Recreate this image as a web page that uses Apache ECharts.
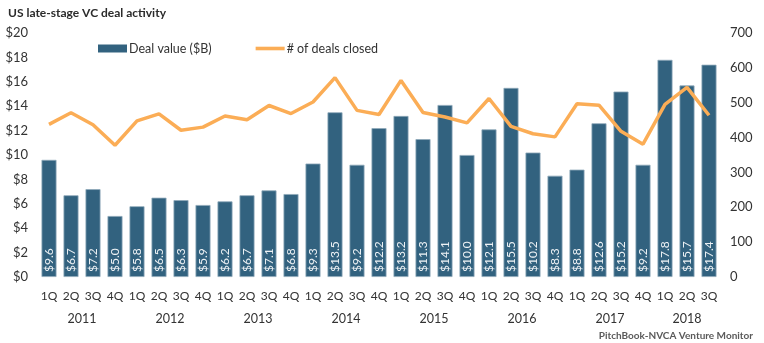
<!DOCTYPE html>
<html>
<head>
<meta charset="utf-8">
<script src="https://cdn.jsdelivr.net/npm/echarts@6/dist/echarts.min.js"></script>
<style>
  html, body { margin: 0; padding: 0; background: #fff; }
  #chart { width: 764px; height: 343px; }
</style>
</head>
<body>
<div id="chart"></div>
<script>
// Quarterly late-stage deal activity, 1Q 2011 through 3Q 2018
const quarters = [
  '1Q','2Q','3Q','4Q', '1Q','2Q','3Q','4Q', '1Q','2Q','3Q','4Q',
  '1Q','2Q','3Q','4Q', '1Q','2Q','3Q','4Q', '1Q','2Q','3Q','4Q',
  '1Q','2Q','3Q','4Q', '1Q','2Q','3Q'
];
const years = ['2011','2012','2013','2014','2015','2016','2017','2018'];
// Quarter count per year (2018 is a partial year)
const quartersPerYear = [4, 4, 4, 4, 4, 4, 4, 3];

const dealValue = [
  9.6, 6.7, 7.2, 5.0, 5.8, 6.5, 6.3, 5.9, 6.2, 6.7, 7.1, 6.8,
  9.3, 13.5, 9.2, 12.2, 13.2, 11.3, 14.1, 10.0, 12.1, 15.5, 10.2, 8.3,
  8.8, 12.6, 15.2, 9.2, 17.8, 15.7, 17.4
];
const dealsClosed = [
  438, 471, 437, 378, 448, 468, 421, 430, 462, 451, 492, 469,
  502, 572, 478, 466, 564, 472, 459, 442, 512, 432, 411, 402,
  497, 493, 418, 381, 495, 544, 464
];

const leftTicks = { min: 0, max: 20, interval: 2 };
const rightTicks = { min: 0, max: 700, interval: 100 };

// Centre position of each year's group of quarters on a continuous index scale
const yearCentres = [];
let start = 0;
quartersPerYear.forEach(n => {
  yearCentres.push(start + (n - 1) / 2);
  start += n;
});

const FONT = 'Lato';
const BAR_COLOR = '#32627f';
const LINE_COLOR = '#fbad56';
// Legend icon for the line: a thin band centred in the icon box
const LINE_ICON = 'path://M0,0M29,8M0,2.2L29,2.2L29,5.8L0,5.8Z';

const chart = echarts.init(document.getElementById('chart'));

chart.setOption({
  animation: false,
  textStyle: { fontFamily: FONT },
  title: [
    {
      text: 'US late-stage VC deal activity',
      left: 3, top: 2,
      textStyle: { fontFamily: FONT, fontSize: 12, fontWeight: 'bold', color: '#2b2b2b' }
    },
    {
      text: 'PitchBook-NVCA Venture Monitor',
      right: 6, bottom: -3,
      textStyle: { fontFamily: FONT, fontSize: 10, fontWeight: 'bold', color: '#5a5a5a' }
    }
  ],
  legend: {
    left: 93, top: 37,
    itemWidth: 29, itemHeight: 8, itemGap: 44,
    textStyle: { fontFamily: FONT, fontSize: 12.5, color: '#333', padding: [0, 0, 0, -3] },
    data: [
      { name: 'Deal value ($B)', icon: 'rect', itemStyle: { color: BAR_COLOR, borderWidth: 0 } },
      { name: '# of deals closed', icon: LINE_ICON, itemStyle: { color: LINE_COLOR, borderWidth: 0 } }
    ]
  },
  grid: { left: 38, right: 44, top: 33, bottom: 66 },
  xAxis: [
    {
      type: 'category',
      data: quarters,
      axisLine: { show: false },
      axisTick: { show: false },
      axisLabel: { interval: 0, margin: 13, fontFamily: FONT, fontSize: 12, color: '#333' }
    },
    {
      type: 'value',
      position: 'bottom',
      min: -0.5,
      max: quarters.length - 0.5,
      axisLine: { show: false },
      axisTick: { show: false },
      splitLine: { show: false },
      axisLabel: {
        customValues: yearCentres,
        margin: 35,
        fontFamily: FONT, fontSize: 12.5, color: '#333',
        formatter: v => years[yearCentres.indexOf(v)] || ''
      }
    }
  ],
  yAxis: [
    {
      type: 'value',
      min: leftTicks.min, max: leftTicks.max, interval: leftTicks.interval,
      axisLine: { show: false },
      axisTick: { show: false },
      splitLine: { show: false },
      axisLabel: { margin: 10, fontFamily: FONT, fontSize: 13, color: '#333', formatter: v => '$' + v }
    },
    {
      type: 'value',
      min: rightTicks.min, max: rightTicks.max, interval: rightTicks.interval,
      axisLine: { show: false },
      axisTick: { show: false },
      splitLine: { show: false },
      axisLabel: { margin: 10, fontFamily: FONT, fontSize: 13, color: '#333' }
    }
  ],
  series: [
    {
      name: 'Deal value ($B)',
      type: 'bar',
      xAxisIndex: 0,
      yAxisIndex: 0,
      data: dealValue,
      barWidth: 15,
      itemStyle: { color: BAR_COLOR, borderColor: '#8fa9ba', borderWidth: 0.8 },
      label: {
        show: true,
        position: 'insideBottom',
        rotate: 90,
        align: 'left',
        verticalAlign: 'middle',
        distance: 5,
        fontFamily: FONT,
        fontSize: 12,
        color: '#eef2f5',
        formatter: p => '$' + p.value.toFixed(1)
      }
    },
    {
      name: '# of deals closed',
      type: 'line',
      xAxisIndex: 0,
      yAxisIndex: 1,
      data: dealsClosed,
      symbol: 'none',
      lineStyle: { color: LINE_COLOR, width: 3.5 },
      itemStyle: { color: LINE_COLOR }
    }
  ]
});
</script>
</body>
</html>
